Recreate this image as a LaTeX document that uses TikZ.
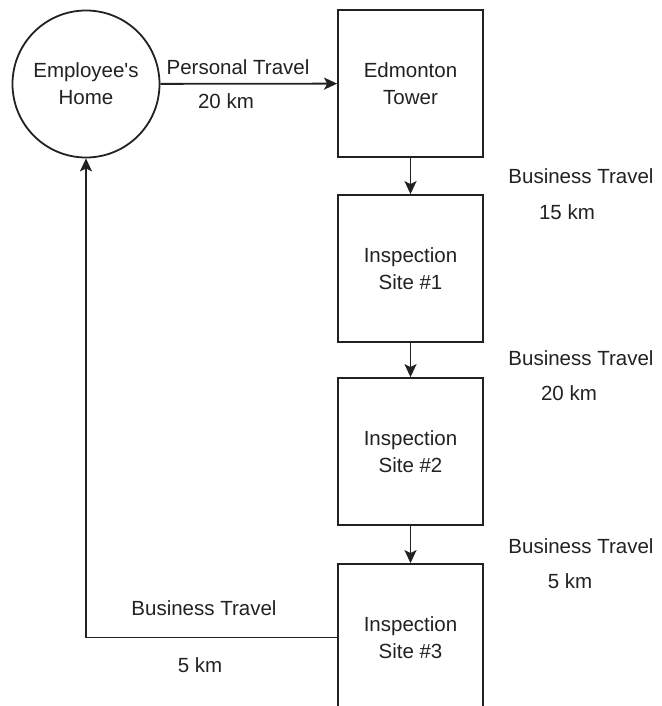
\documentclass[tikz,border=0pt]{standalone}
\usepackage{fontspec}
\setmainfont{Liberation Sans}[Ligatures=TeXOff]
\usetikzlibrary{arrows.meta}
\definecolor{ink}{HTML}{222222}
\begin{document}
\begin{tikzpicture}[x=1pt,y=-1pt,
  every node/.style={font=\fontsize{20.5}{27}\selectfont, text=ink, align=center},
  sitebox/.style={draw=ink, line width=1.8pt, minimum width=145pt, minimum height=147pt, inner sep=0pt},
  homecircle/.style={draw=ink, line width=1.8pt, circle, minimum size=147pt, inner sep=0pt},
  link/.style={draw=ink, line width=1.8pt, -{Stealth[length=13pt,width=12pt,inset=3pt]}},
  lbl/.style={inner sep=0pt}]
\useasboundingbox (0,0) rectangle (661,706);
\clip (0,0) rectangle (661,706);
\fill[white] (0,0) rectangle (661,706);
\node[homecircle] (home) at (86,84) {Employee's\\Home};
\node[sitebox] (tower) at (410.5,83.5) {Edmonton\\Tower};
\node[sitebox] (s1) at (410.5,268.5) {Inspection\\Site \#1};
\node[sitebox] (s2) at (410.5,451.5) {Inspection\\Site \#2};
\node[sitebox] (s3) at (410.5,637.5) {Inspection\\Site \#3};
\coordinate (bend) at (86,637.5);
\draw[link] (home) -- (tower);
\draw[link] (tower) -- (s1);
\draw[link] (s1) -- (s2);
\draw[link] (s2) -- (s3);
\draw[link] (s3.west) -- (bend) -- (home.south);
\node[lbl] (p1) at (238,67) {Personal Travel};
\node[lbl] (p2) at (226,101) {20 km};
\node[lbl] (b1) at (581,176) {Business Travel};
\node[lbl] (b1k) at (567,212) {15 km};
\node[lbl] (b2) at (581,358) {Business Travel};
\node[lbl] (b2k) at (569,393) {20 km};
\node[lbl] (b3) at (581,546) {Business Travel};
\node[lbl] (b3k) at (570,581) {5 km};
\node[lbl] (b4) at (204,608) {Business Travel};
\node[lbl] (b4k) at (200,665) {5 km};
\end{tikzpicture}
\end{document}
